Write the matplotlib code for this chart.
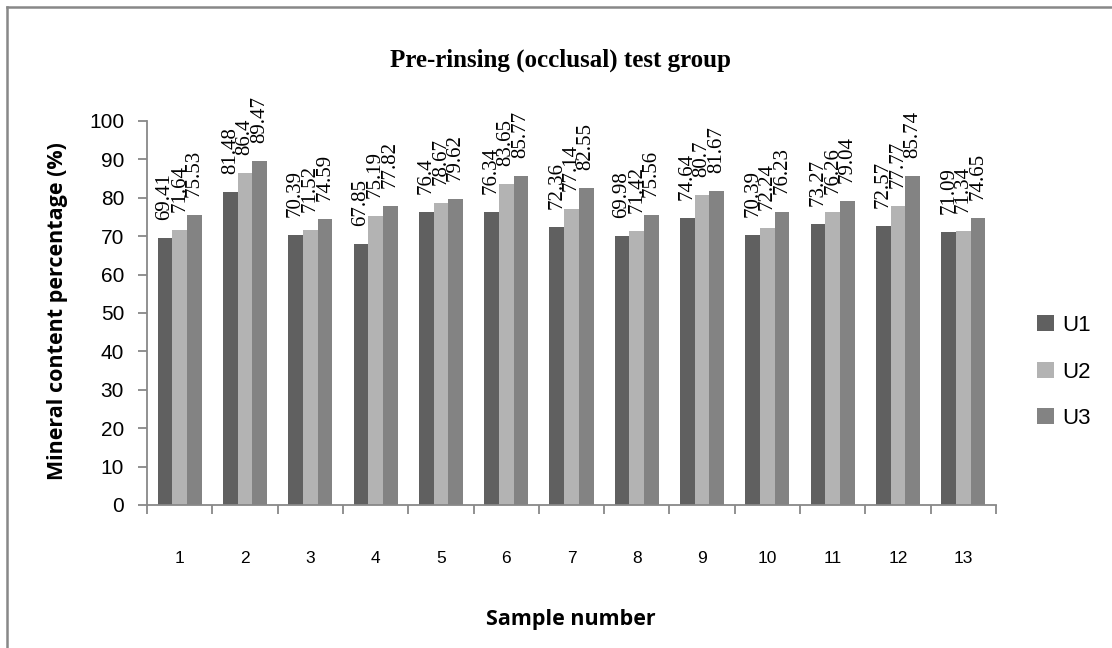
import numpy as np
import matplotlib
matplotlib.use("Agg")
import matplotlib.pyplot as plt
from matplotlib.lines import Line2D
from matplotlib.ticker import FixedLocator, NullFormatter

# --- Data ---
SAMPLES = ["1", "2", "3", "4", "5", "6", "7", "8", "9", "10", "11", "12", "13"]
U1 = [69.41, 81.48, 70.39, 67.85, 76.4, 76.34, 72.36, 69.98, 74.64, 70.39, 73.27, 72.57, 71.09]
U2 = [71.64, 86.4, 71.52, 75.19, 78.67, 83.65, 77.14, 71.42, 80.7, 72.24, 76.26, 77.77, 71.34]
U3 = [75.53, 89.47, 74.59, 77.82, 79.62, 85.77, 82.55, 75.56, 81.67, 76.23, 79.04, 85.74, 74.65]
SERIES_NAMES = ["U1", "U2", "U3"]

# --- Style ---
FIG_SIZE = (11.12, 6.48)
DPI = 100
COLORS = ["#606060", "#b3b3b3", "#838383"]
AXIS_GRAY = "#888888"
BAR_WIDTH = 0.225
SERIF = "Liberation Serif"
SANS = "Liberation Sans"
LABEL_FONT = "Open Sans"

TITLE = "Pre-rinsing (occlusal) test group"
XLABEL = "Sample number"
YLABEL = "Mineral content percentage (%)"


def main():
    fig = plt.figure(figsize=FIG_SIZE, dpi=DPI)
    ax = fig.add_axes([147 / 1112, 1 - 505 / 648, 849 / 1112, 384 / 648])

    x = np.arange(len(SAMPLES))
    series = [U1, U2, U3]
    for i, (vals, name, col) in enumerate(zip(series, SERIES_NAMES, COLORS)):
        pos = x + (i - 1) * BAR_WIDTH
        bars = ax.bar(pos, vals, width=BAR_WIDTH, color=col, label=name, linewidth=0)
        for b, v in zip(bars, vals):
            ax.annotate(f"{v:g}", (b.get_x() + b.get_width() / 2, v),
                        xytext=(0, 13), textcoords="offset points",
                        rotation=90, ha="center", va="bottom",
                        fontsize=15, family=SERIF, color="black")

    ax.set_xlim(-0.5, len(SAMPLES) - 0.5)
    ax.set_ylim(0, 100)
    ax.set_yticks(np.arange(0, 101, 10))

    # category boundaries get the ticks, labels sit at the centres
    ax.xaxis.set_major_locator(FixedLocator(np.arange(-0.5, len(SAMPLES), 1.0)))
    ax.xaxis.set_major_formatter(NullFormatter())
    ax.xaxis.set_minor_locator(FixedLocator(x))
    ax.set_xticklabels(SAMPLES, minor=True)
    ax.tick_params(axis="x", which="major", direction="out", length=6.5,
                   width=1.3, color=AXIS_GRAY)
    ax.tick_params(axis="x", which="minor", length=0, pad=33, labelsize=12.5)
    ax.tick_params(axis="y", direction="out", length=6.5, width=1.3,
                   color=AXIS_GRAY, pad=10, labelsize=15)
    for lab in ax.get_xticklabels(minor=True) + ax.get_yticklabels():
        lab.set_family(SANS)

    for side in ("top", "right"):
        ax.spines[side].set_visible(False)
    for side in ("left", "bottom"):
        ax.spines[side].set_color(AXIS_GRAY)
        ax.spines[side].set_linewidth(1.3)

    fig.text(561 / 1112, 1 - 60 / 648, TITLE, ha="center", va="center",
             fontsize=18, fontweight="bold", family=SERIF)
    fig.text(58 / 1112, 1 - 311 / 648, YLABEL, ha="center", va="center",
             rotation=90, fontsize=15.5, fontweight="bold", family=LABEL_FONT)
    fig.text(571 / 1112, 1 - 620 / 648, XLABEL, ha="center", va="center",
             fontsize=15.5, fontweight="bold", family=LABEL_FONT)

    fig.legend(loc="center left", bbox_to_anchor=(1037 / 1112, 1 - 372 / 648),
               frameon=False, borderpad=0, borderaxespad=0,
               handlelength=0.75, handleheight=0.75, handletextpad=0.4,
               labelspacing=1.15, prop={"family": SANS, "size": 16})

    # outer frame (only the left and top edges show in the crop)
    fig.add_artist(Line2D([7 / 1112, 7 / 1112], [0, 1 - 7 / 648],
                          transform=fig.transFigure, color=AXIS_GRAY, lw=1.8))
    fig.add_artist(Line2D([7 / 1112, 1], [1 - 7 / 648, 1 - 7 / 648],
                          transform=fig.transFigure, color=AXIS_GRAY, lw=1.8))

    fig.savefig("out.png", dpi=DPI)


if __name__ == "__main__":
    main()
